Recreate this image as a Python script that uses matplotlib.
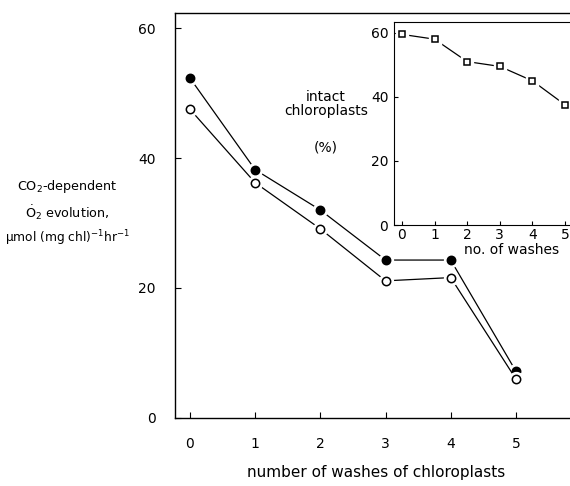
import numpy as np
import matplotlib.pyplot as plt

# main panel data
washes = [0, 1, 2, 3, 4, 5]
o2_filled = [52.3, 38.2, 32.0, 24.3, 24.3, 7.2]
o2_open = [47.5, 36.2, 29.1, 21.1, 21.6, 6.0]

# inset data
inset_washes = [0, 1, 2, 3, 4, 5]
intact_pct = [59.5, 58.0, 51.0, 49.5, 45.0, 37.5]

main_yticks = [0, 20, 40, 60]
inset_yticks = [0, 20, 40, 60]

plt.rcParams['font.family'] = ['DejaVu Sans']


def gapped(ax, x, y, marker, ms, fc):
    # line, then a white halo so the line stops short of the marker
    ax.plot(x, y, '-', color='black', lw=0.9)
    ax.plot(x, y, marker, ls='none', ms=ms + 4, mfc='white', mec='white')
    ax.plot(x, y, marker, ls='none', ms=ms, mfc=fc, mec='black', mew=1.1)


fig = plt.figure(figsize=(5.7, 4.86), dpi=100)

ax = fig.add_axes([0.307, 0.140, 0.693, 0.833])
gapped(ax, washes, o2_filled, 'o', 6, 'black')
gapped(ax, washes, o2_open, 'o', 6, 'white')
ax.set_xlim(-0.23, 5.83)
ax.set_ylim(0, 62.3)
ax.set_xticks(washes)
ax.set_yticks(main_yticks)
ax.tick_params(direction='in', length=4, width=0.8, labelsize=10)
ax.tick_params(axis='y', pad=14)
ax.tick_params(axis='x', pad=14)
ax.spines['right'].set_visible(False)
for s in ax.spines.values():
    s.set_linewidth(1.0)
ax.set_xlabel('number of washes of chloroplasts', fontsize=11, labelpad=13)
ax.xaxis.set_label_coords(0.51, -0.115)

fig.text(0.118, 0.617, 'CO$_2$-dependent', ha='center', va='center', fontsize=9.2)
fig.text(0.118, 0.563, '$\\dot{\\rm O}_2$ evolution,', ha='center', va='center', fontsize=9.2)
fig.text(0.118, 0.510, '\u00b5mol (mg chl)$^{-1}$hr$^{-1}$', ha='center', va='center', fontsize=8.8)

# inset
ins = fig.add_axes([0.691, 0.537, 0.309, 0.418])
gapped(ins, inset_washes, intact_pct, 's', 5, 'white')
ins.set_xlim(-0.245, 5.15)
ins.set_ylim(0, 63.4)
ins.set_xticks(inset_washes)
ins.set_yticks(inset_yticks)
ins.tick_params(direction='in', length=3, width=0.8, labelsize=10)
ins.tick_params(axis='y', pad=4)
ins.tick_params(axis='x', pad=2)
ins.spines['right'].set_visible(False)
ins.set_xlabel('no. of washes', fontsize=10)
ins.xaxis.set_label_coords(0.67, -0.09)
fig.text(0.572, 0.785, 'intact\nchloroplasts', ha='center', va='center', fontsize=10, linespacing=1.0)
fig.text(0.572, 0.697, '(%)', ha='center', va='center', fontsize=10)

fig.savefig('out.png', dpi=100)
